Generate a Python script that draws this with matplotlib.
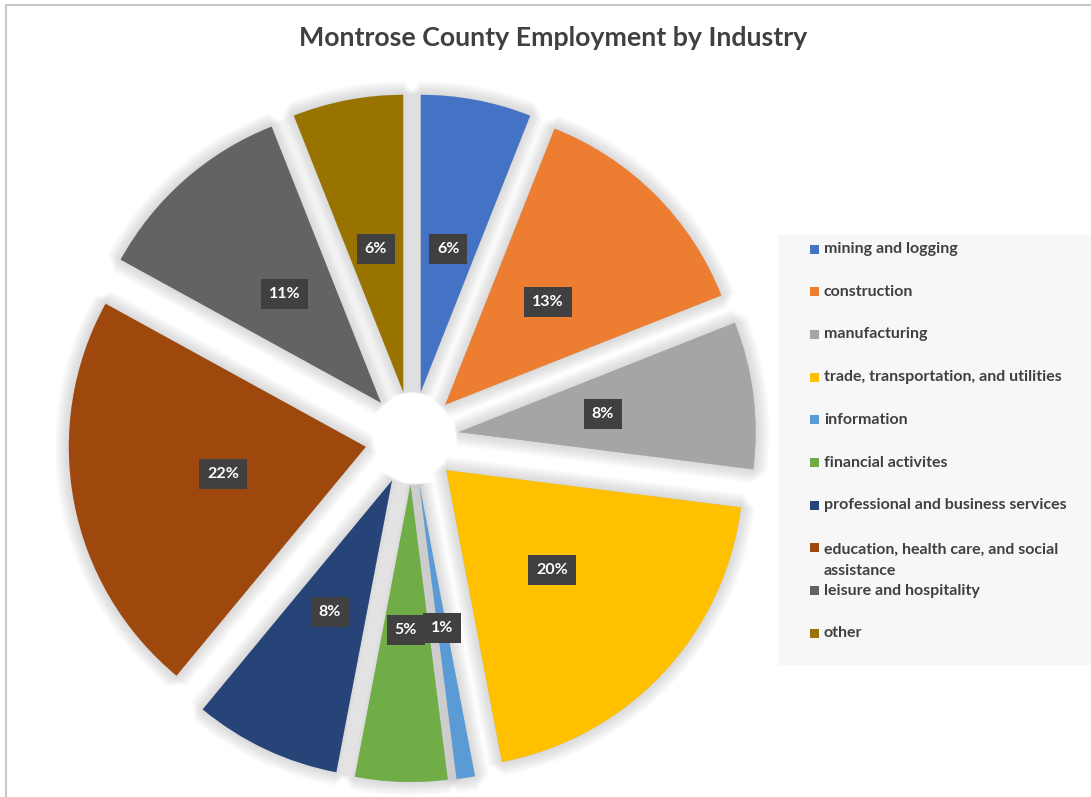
import matplotlib.pyplot as plt
from matplotlib.patches import Wedge, Rectangle

industries = [
    "mining and logging",
    "construction",
    "manufacturing",
    "trade, transportation, and utilities",
    "information",
    "financial activites",
    "professional and business services",
    "education, health care, and social\nassistance",
    "leisure and hospitality",
    "other",
]
shares = [6, 13, 8, 20, 1, 5, 8, 22, 11, 6]
colors = ["#4472C4", "#ED7D31", "#A5A5A5", "#FFC000", "#5B9BD5",
          "#70AD47", "#264478", "#9E480E", "#636363", "#997300"]

W, H = 1091, 797
plt.rcParams["font.family"] = ["Lato", "DejaVu Sans"]

fig = plt.figure(figsize=(W / 100, H / 100), dpi=100)
ax = fig.add_axes([0, 0, 1, 1])
ax.axis("off")

# thin outer frame
ax.add_patch(Rectangle((6, -10), W + 20, H - 5 + 10, fill=False,
                       edgecolor="#c8c8c8", lw=1.5))

radius = 297
offset = 47
wedges, _, autotexts = ax.pie(
    shares, colors=colors, startangle=90, counterclock=False,
    center=(412, H - 438), radius=radius, explode=[offset] * len(shares),
    autopct="%1.0f%%", pctdistance=0.49,
    wedgeprops=dict(linewidth=0, zorder=3),
    textprops=dict(color="white", fontsize=11.5, fontweight="bold"),
)
ax.set_xlim(0, W)
ax.set_ylim(0, H)
ax.set_aspect("equal")

# soft shadow hugging each slice
for w in wedges:
    for lw in range(20, 0, -2):
        ax.add_patch(Wedge(w.center, w.r, w.theta1, w.theta2,
                           facecolor="#8a8a8a", edgecolor="#8a8a8a",
                           lw=lw, alpha=0.03, zorder=2, joinstyle="bevel"))

for t in autotexts:
    t.set_zorder(5)
    t.set_bbox(dict(boxstyle="square,pad=0.5", facecolor="#404040",
                    edgecolor="none"))

fig.text(553 / W, 1 - 38 / H, "Montrose County Employment by Industry",
         ha="center", va="center", fontsize=19.3, fontweight="bold",
         color="#404040")

# legend panel
ax.add_patch(Rectangle((778, H - 665), 330, 430, facecolor="#f7f7f7",
                       edgecolor="none", zorder=1))
y0, step, line_px = 249, 42.7, 25
for i, (name, c) in enumerate(zip(industries, colors)):
    y = H - (y0 + i * step)
    extra = name.count("\n") * line_px / 2
    ax.add_patch(Rectangle((810, y - 4.5), 9, 9, facecolor=c,
                           edgecolor="none", zorder=4))
    ax.text(824, y - extra, name, ha="left", va="center",
            fontsize=11.5, fontweight="bold", color="#404040",
            linespacing=1.6, zorder=4)

fig.savefig("out.png", dpi=100)
